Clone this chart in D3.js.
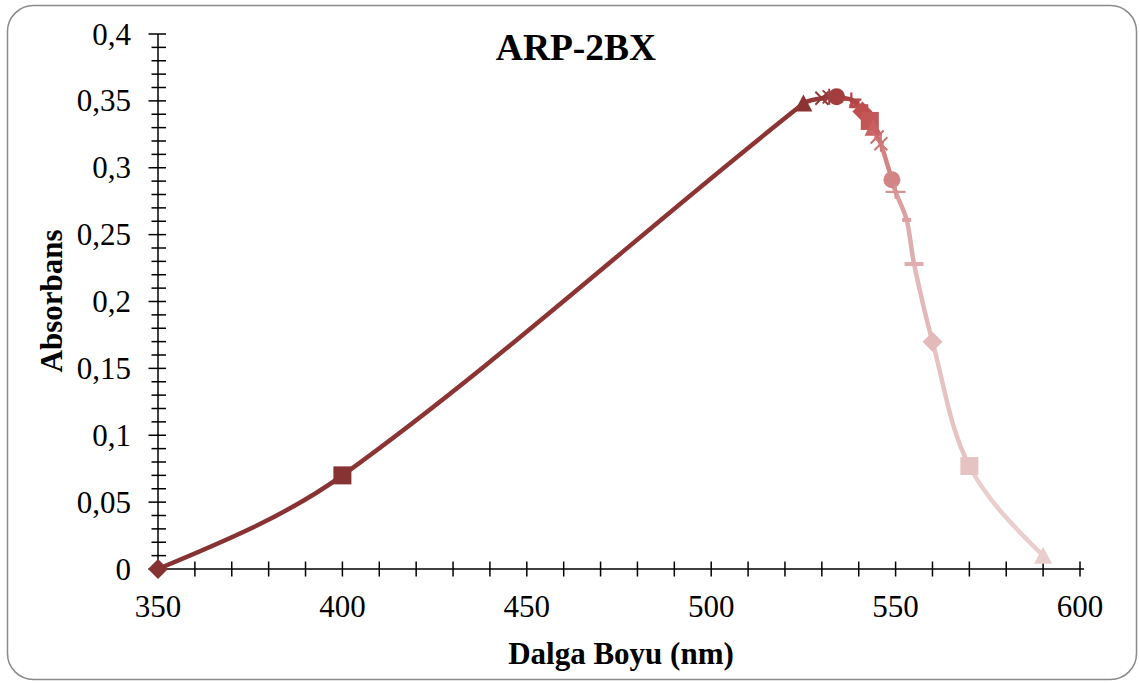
<!DOCTYPE html>
<html>
<head>
<meta charset="utf-8">
<script src="https://cdn.jsdelivr.net/npm/d3@7/dist/d3.min.js"></script>
<style>
  html, body { margin: 0; padding: 0; background: #fff; }
  svg { display: block; }
  text { font-family: "Liberation Serif", "Times New Roman", serif; fill: #000; }
</style>
</head>
<body>
<svg id="chart" width="1139" height="683"></svg>
<script>
// Absorption spectrum of ARP-2BX
const wavelengths = [350, 400, 525, 530, 532, 534, 538, 539, 540, 541, 543, 544, 545, 546, 549, 550, 553, 555, 560, 570, 590];
const absorbance  = [0, 0.07, 0.348, 0.352, 0.353, 0.353, 0.351, 0.349, 0.346, 0.342, 0.335, 0.330, 0.323, 0.318, 0.291, 0.282, 0.261, 0.228, 0.170, 0.077, 0.010];
const markerShapes = ["diamond", "square", "triangle", "x", "star", "circle", "plus", "dash", "longdash",
                      "diamond", "square", "triangle", "x", "star", "circle", "plus", "dash", "longdash",
                      "diamond", "square", "triangle"];
const palette = ["#843232", "#873333", "#8c3434", "#933737", "#9a3a3a", "#a23e3e", "#aa4242", "#b24646",
                 "#ba4a4a", "#bf4f4f", "#c35656", "#c76161", "#cb6c6c", "#cf7878", "#d38585", "#d79393",
                 "#dba0a0", "#dfadad", "#e3b9b9", "#e6c3c3", "#eacdcd"];
const xTicks = [350, 400, 450, 500, 550, 600];
const yTicks = [0, 0.05, 0.1, 0.15, 0.2, 0.25, 0.3, 0.35, 0.4];
const yTickLabels = ["0", "0,05", "0,1", "0,15", "0,2", "0,25", "0,3", "0,35", "0,4"];

const svg = d3.select("#chart");

// chart area frame
svg.append("rect")
  .attr("x", 7.5).attr("y", 5.5).attr("width", 1129).attr("height", 674)
  .attr("rx", 26).attr("ry", 26)
  .attr("fill", "#fff").attr("stroke", "#8a8a8a").attr("stroke-width", 1.5);

const x = d3.scaleLinear().domain([350, 600]).range([158, 1080]);
const y = d3.scaleLinear().domain([0, 0.4]).range([569, 34]);

// axes
const axisG = svg.append("g").attr("stroke", "#000").attr("stroke-width", 1.5);
axisG.append("line").attr("x1", x(350)).attr("x2", x(600) + 4).attr("y1", y(0)).attr("y2", y(0));
axisG.append("line").attr("x1", x(350)).attr("x2", x(350)).attr("y1", y(0)).attr("y2", y(0.4));

const xMinor = d3.range(350, 601, 10);
axisG.selectAll(".xt").data(xMinor).join("line")
  .attr("x1", d => x(d)).attr("x2", d => x(d))
  .attr("y1", y(0) - 7.5).attr("y2", y(0) + 7.5);

const yMinor = d3.range(0, 41, 1).map(d => d / 100);
axisG.selectAll(".yt").data(yMinor).join("line")
  .attr("y1", d => y(d)).attr("y2", d => y(d))
  .attr("x1", (d, i) => x(350) - (i % 5 === 0 ? 9.5 : 6.5))
  .attr("x2", x(350) + 8);

svg.selectAll(".xl").data(xTicks).join("text")
  .attr("x", d => x(d)).attr("y", 617)
  .attr("text-anchor", "middle").attr("font-size", 31)
  .text(d => d);

svg.selectAll(".yl").data(yTicks).join("text")
  .attr("x", 131).attr("y", d => y(d) + 10.5)
  .attr("text-anchor", "end").attr("font-size", 31)
  .text((d, i) => yTickLabels[i]);

svg.append("text")
  .attr("x", 576).attr("y", 60)
  .attr("text-anchor", "middle").attr("font-size", 37.5).attr("font-weight", "bold")
  .text("ARP-2BX");

svg.append("text")
  .attr("x", 621).attr("y", 664)
  .attr("text-anchor", "middle").attr("font-size", 31).attr("font-weight", "bold")
  .text("Dalga Boyu (nm)");

svg.append("text")
  .attr("transform", "translate(62,301) rotate(-90)")
  .attr("text-anchor", "middle").attr("font-size", 31).attr("font-weight", "bold")
  .text("Absorbans");

// smoothed spectrum: cubic segments whose tangents follow the neighbouring
// points and whose handles are a third of the segment length
const P = wavelengths.map((w, i) => [x(w), y(absorbance[i])]);
function unit(a, b) {
  const dx = b[0] - a[0], dy = b[1] - a[1], l = Math.hypot(dx, dy) || 1;
  return [dx / l, dy / l];
}
const segG = svg.append("g").attr("fill", "none").attr("stroke-width", 4.5).attr("stroke-linecap", "round");
for (let i = 0; i < P.length - 1; i++) {
  const a = P[i], b = P[i + 1];
  const L = Math.hypot(b[0] - a[0], b[1] - a[1]) / 3;
  let c1, c2;
  const tb = i + 2 < P.length ? unit(P[i], P[i + 2]) : null;
  const ta = i > 0 ? unit(P[i - 1], P[i + 1]) : null;
  c2 = tb ? [b[0] - tb[0] * L, b[1] - tb[1] * L] : null;
  c1 = ta ? [a[0] + ta[0] * L, a[1] + ta[1] * L] : null;
  if (!c1) c1 = [a[0] + (c2[0] - a[0]) / 2, a[1] + (c2[1] - a[1]) / 2];
  if (!c2) c2 = [b[0] + (c1[0] - b[0]) / 2, b[1] + (c1[1] - b[1]) / 2];
  const p = d3.path();
  p.moveTo(a[0], a[1]);
  p.bezierCurveTo(c1[0], c1[1], c2[0], c2[1], b[0], b[1]);
  segG.append("path").attr("d", p.toString()).attr("stroke", palette[i + 1]);
}

// markers
function marker(g, shape, color) {
  switch (shape) {
    case "diamond":
      g.append("path").attr("d", "M0,-10L10,0L0,10L-10,0Z").attr("fill", color); break;
    case "square":
      g.append("rect").attr("x", -9).attr("y", -9).attr("width", 18).attr("height", 18).attr("fill", color); break;
    case "triangle":
      g.append("path").attr("d", "M0,-9L9,8L-9,8Z").attr("fill", color); break;
    case "circle":
      g.append("circle").attr("r", 8.5).attr("fill", color); break;
    case "x":
      g.append("path").attr("d", "M-6.5,-6.5L6.5,6.5M-6.5,6.5L6.5,-6.5").attr("stroke", color).attr("stroke-width", 2); break;
    case "star":
      g.append("path").attr("d", "M-6.5,-6.5L6.5,6.5M-6.5,6.5L6.5,-6.5M0,-8L0,8").attr("stroke", color).attr("stroke-width", 2); break;
    case "plus":
      g.append("path").attr("d", "M-10,0L10,0M0,-7L0,7").attr("stroke", color).attr("stroke-width", 2.2); break;
    case "dash":
      g.append("rect").attr("x", -4.5).attr("y", -2).attr("width", 9).attr("height", 4).attr("fill", color); break;
    case "longdash":
      g.append("rect").attr("x", -9.5).attr("y", -2).attr("width", 19).attr("height", 4).attr("fill", color); break;
  }
}
const mG = svg.append("g");
wavelengths.forEach((w, i) => {
  const g = mG.append("g").attr("transform", `translate(${x(w)},${y(absorbance[i])})`);
  marker(g, markerShapes[i], palette[i]);
});
</script>
</body>
</html>
